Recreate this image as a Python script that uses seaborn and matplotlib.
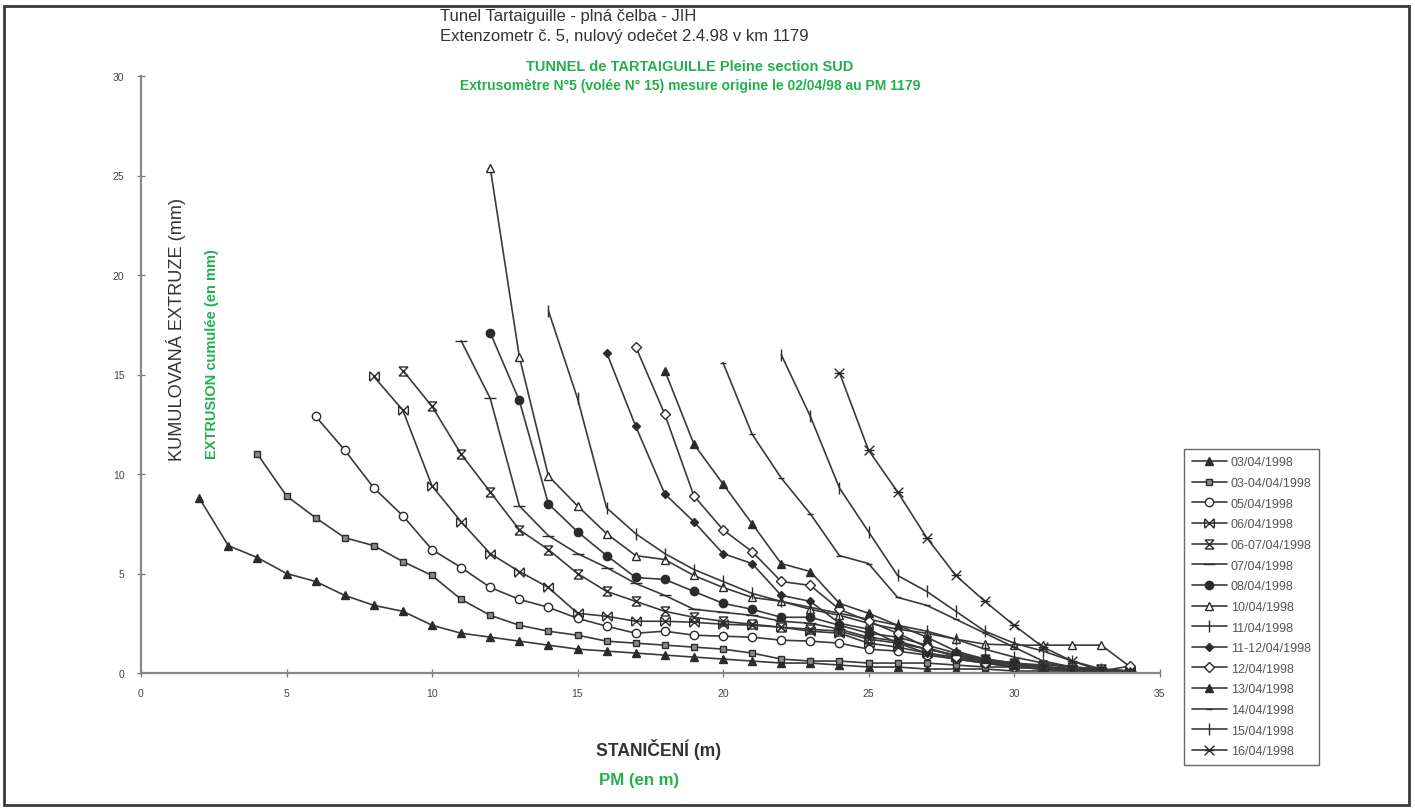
import numpy as np
import pandas as pd
import matplotlib
matplotlib.use("Agg")
import matplotlib.pyplot as plt
from matplotlib.path import Path
from matplotlib.patches import Rectangle
import seaborn as sns

# ---------------- data ----------------
labels = ["03/04/1998", "03-04/04/1998", "05/04/1998", "06/04/1998", "06-07/04/1998",
          "07/04/1998", "08/04/1998", "10/04/1998", "11/04/1998", "11-12/04/1998",
          "12/04/1998", "13/04/1998", "14/04/1998", "15/04/1998", "16/04/1998"]

x_0304 = list(range(2, 35))
y_0304 = [8.8, 6.4, 5.8, 5.0, 4.6, 3.9, 3.4, 3.1, 2.4, 2.0, 1.8, 1.6, 1.4, 1.2, 1.1, 1.0, 0.9,
          0.8, 0.7, 0.6, 0.5, 0.5, 0.4, 0.3, 0.3, 0.2, 0.2, 0.2, 0.1, 0.1, 0.1, 0.1, 0.0]
x_030404 = list(range(4, 35))
y_030404 = [11.0, 8.9, 7.8, 6.8, 6.4, 5.6, 4.9, 3.7, 2.9, 2.4, 2.1, 1.9, 1.6, 1.5, 1.4, 1.3,
            1.2, 1.0, 0.7, 0.6, 0.6, 0.5, 0.5, 0.5, 0.4, 0.3, 0.3, 0.2, 0.2, 0.1, 0.1]
x_0504 = list(range(6, 35))
y_0504 = [12.9, 11.2, 9.3, 7.9, 6.2, 5.3, 4.3, 3.7, 3.3, 2.75, 2.35, 2.0, 2.1, 1.9, 1.85,
          1.8, 1.65, 1.6, 1.5, 1.2, 1.1, 0.9, 0.7, 0.5, 0.4, 0.3, 0.2, 0.1, 0.1]
x_0604 = list(range(8, 35))
y_0604 = [14.9, 13.2, 9.4, 7.6, 6.0, 5.1, 4.3, 3.0, 2.85, 2.6, 2.6, 2.55, 2.45, 2.4, 2.3,
          2.1, 2.0, 1.5, 1.3, 1.0, 0.8, 0.6, 0.4, 0.3, 0.2, 0.1, 0.1]
x_060704 = list(range(9, 35))
y_060704 = [15.2, 13.4, 11.0, 9.1, 7.2, 6.2, 5.0, 4.1, 3.6, 3.1, 2.8, 2.6, 2.45, 2.3, 2.2,
            2.1, 1.7, 1.5, 1.2, 0.9, 0.7, 0.5, 0.4, 0.3, 0.2, 0.1]
x_0704 = list(range(11, 35))
y_0704 = [16.7, 13.8, 8.4, 6.9, 6.0, 5.3, 4.5, 3.9, 3.2, 3.05, 2.9, 2.6, 2.5, 2.2, 1.8, 1.6,
          1.2, 0.9, 0.6, 0.4, 0.3, 0.2, 0.1, 0.1]
x_0804 = list(range(12, 35))
y_0804 = [17.1, 13.7, 8.5, 7.1, 5.9, 4.8, 4.7, 4.1, 3.5, 3.2, 2.8, 2.8, 2.4, 2.0, 1.8, 1.4,
          1.0, 0.7, 0.5, 0.3, 0.2, 0.1, 0.1]
x_1004 = list(range(12, 35))
y_1004 = [25.4, 15.9, 9.9, 8.4, 7.0, 5.9, 5.7, 4.9, 4.3, 3.8, 3.6, 3.2, 2.9, 2.5, 2.2, 2.0,
          1.7, 1.45, 1.4, 1.4, 1.4, 1.4, 0.3]
x_1104 = list(range(14, 35))
y_1104 = [18.2, 13.8, 8.3, 7.0, 6.0, 5.2, 4.6, 4.0, 3.6, 3.3, 3.0, 2.7, 2.4, 2.1, 1.7, 1.2,
          0.8, 0.5, 0.3, 0.2, 0.1]
x_111204 = list(range(16, 35))
y_111204 = [16.1, 12.4, 9.0, 7.6, 6.0, 5.5, 3.9, 3.6, 2.5, 2.2, 1.5, 1.0, 0.7, 0.5, 0.3, 0.2,
            0.1, 0.1, 0.0]
x_1204 = list(range(17, 35))
y_1204 = [16.4, 13.0, 8.9, 7.2, 6.1, 4.6, 4.4, 3.2, 2.6, 2.0, 1.3, 0.8, 0.5, 0.3, 0.2, 0.1,
          0.1, 0.35]
x_1304 = list(range(18, 35))
y_1304 = [15.2, 11.5, 9.5, 7.5, 5.5, 5.1, 3.5, 3.0, 2.4, 1.8, 1.1, 0.7, 0.4, 0.3, 0.2, 0.1, 0.1]
x_1404 = list(range(20, 35))
y_1404 = [15.6, 12.0, 9.8, 8.0, 5.9, 5.5, 3.8, 3.4, 2.7, 2.0, 1.3, 0.6, 0.3, 0.1, 0.1]
x_1504 = list(range(22, 34))
y_1504 = [16.0, 12.9, 9.3, 7.1, 4.9, 4.1, 3.1, 2.1, 1.5, 1.1, 0.6, 0.1]
x_1604 = list(range(24, 35))
y_1604 = [15.1, 11.2, 9.1, 6.8, 4.9, 3.6, 2.4, 1.3, 0.6, 0.2, 0.0]

xs = [x_0304, x_030404, x_0504, x_0604, x_060704, x_0704, x_0804, x_1004, x_1104,
      x_111204, x_1204, x_1304, x_1404, x_1504, x_1604]
ys = [y_0304, y_030404, y_0504, y_0604, y_060704, y_0704, y_0804, y_1004, y_1104,
      y_111204, y_1204, y_1304, y_1404, y_1504, y_1604]

x_ticks = [0, 5, 10, 15, 20, 25, 30, 35]
y_ticks = [0, 5, 10, 15, 20, 25, 30]

# ---------------- custom markers ----------------
M, L = Path.MOVETO, Path.LINETO
bowtie = Path([(-1, -1), (1, 1), (-1, 1), (1, -1), (-1, -0.8), (-1, 0.8), (1, -0.8), (1, 0.8)],
              [M, L, M, L, M, L, M, L])
hourglass = Path([(-1, -1), (1, 1), (-1, 1), (1, -1), (-0.9, 1), (0.9, 1), (-0.9, -1), (0.9, -1)],
                 [M, L, M, L, M, L, M, L])
xstar = Path([(-1, -1), (1, 1), (-1, 1), (1, -1), (-1, 0), (1, 0)], [M, L, M, L, M, L])

DK = "#2b2b2b"
styles = [
    dict(marker="^", ms=5.5, mfc=DK),
    dict(marker="s", ms=5, mfc="#8a8a8a"),
    dict(marker="o", ms=6, mfc="white"),
    dict(marker=bowtie, ms=7, mfc="none"),
    dict(marker=hourglass, ms=6.5, mfc="none"),
    dict(marker="_", ms=8, mfc=DK),
    dict(marker="o", ms=6, mfc=DK),
    dict(marker="^", ms=6, mfc="white"),
    dict(marker="|", ms=9, mfc=DK),
    dict(marker="D", ms=4.5, mfc=DK),
    dict(marker="D", ms=5, mfc="white"),
    dict(marker="^", ms=6, mfc=DK),
    dict(marker="_", ms=5, mfc=DK),
    dict(marker="|", ms=9, mfc=DK),
    dict(marker=xstar, ms=7, mfc="none"),
]

# ---------------- figure ----------------
sns.set_theme(style="white")
plt.rcParams["font.family"] = ["Liberation Sans", "DejaVu Sans"]

W, H = 1415, 812
fig = plt.figure(figsize=(W / 100, H / 100), dpi=100)
fig.patch.set_facecolor("white")


def fx(px):
    return px / W


def fy(py):
    return 1 - py / H


ax = fig.add_axes([fx(141), fy(674), fx(1159.5) - fx(141), fy(77) - fy(674)])
ax.set_facecolor("white")

for lab, xv, yv, st in zip(labels, xs, ys, styles):
    df = pd.DataFrame({"x": xv, "y": yv})
    sns.lineplot(data=df, x="x", y="y", ax=ax, color="#3a3a3a", linewidth=1.2,
                 marker=st["marker"], markersize=st["ms"], markerfacecolor=st["mfc"],
                 markeredgecolor=DK, markeredgewidth=1.0, label=lab, sort=False,
                 legend=False)

ax.set_xlim(0, 35)
ax.set_ylim(0, 30)
ax.set_xticks(x_ticks)
ax.set_yticks(y_ticks)
ax.set_xticklabels([str(t) for t in x_ticks])
ax.set_yticklabels([str(t) for t in y_ticks])
ax.tick_params(axis="both", direction="inout", length=6, width=0.9, color="#777777",
               labelsize=7.5, labelcolor="#444444", bottom=True, left=True)
ax.tick_params(axis="x", pad=8)
ax.tick_params(axis="y", pad=9)
for s in ["top", "right"]:
    ax.spines[s].set_visible(False)
for s in ["left", "bottom"]:
    ax.spines[s].set_color("#888888")
    ax.spines[s].set_linewidth(1.6)
ax.set_xlabel("")
ax.set_ylabel("")
ax.grid(False)

# ---------------- texts ----------------
GREEN = "#22b04e"
TXT = "#333333"
renderer = fig.canvas.get_renderer()


def fit_text(px, py, s, target, vertical=False, **kw):
    t = fig.text(fx(px), fy(py), s, fontsize=10, **kw)
    ext = t.get_window_extent(renderer)
    cur = ext.height if vertical else ext.width
    t.set_fontsize(10 * target / cur)
    return t


fig.text(fx(440), fy(17), "Tunel Tartaiguille - plná čelba - JIH", ha="left", va="center",
         fontsize=12, color=TXT)
fig.text(fx(440), fy(36), "Extenzometr č. 5, nulový odečet 2.4.98 v km 1179", ha="left",
         va="center", fontsize=12, color=TXT)
fig.text(fx(690), fy(67), "TUNNEL de TARTAIGUILLE Pleine section SUD", ha="center",
         va="center", fontsize=10.5, color=GREEN, fontweight="bold")
fig.text(fx(690), fy(86), "Extrusomètre N°5 (volée N° 15) mesure origine le 02/04/98 au PM 1179",
         ha="center", va="center", fontsize=10, color=GREEN, fontweight="bold")

fit_text(176, 330, "KUMULOVANÁ EXTRUZE (mm)", 263, vertical=True, rotation=90,
         ha="center", va="center", color=TXT)
fit_text(212, 354, "EXTRUSION cumulée (en mm)", 209, vertical=True, rotation=90,
         ha="center", va="center", color=GREEN, fontweight="bold")

fit_text(596, 750, "STANIČENÍ (m)", 125, ha="left", va="center", color=TXT,
         fontweight="bold")
fit_text(599, 781, "PM (en m)", 80, ha="left", va="center", color=GREEN,
         fontweight="bold")

# ---------------- legend ----------------
handles, labs = ax.get_legend_handles_labels()
leg = fig.legend(handles, labs, loc="upper left", bbox_to_anchor=(fx(1184), fy(450)),
                 fontsize=9, frameon=True, fancybox=False, shadow=False,
                 handlelength=2.8, handletextpad=0.35, labelspacing=0.69,
                 borderpad=0.6, borderaxespad=0.0, labelcolor="#555555")
leg.get_frame().set_edgecolor("#444444")
leg.get_frame().set_linewidth(1.0)

# ---------------- outer frame ----------------
fig.add_artist(Rectangle((fx(4), fy(806)), fx(1409) - fx(4), fy(7) - fy(806),
                         transform=fig.transFigure, fill=False, edgecolor="#3a3a3a",
                         linewidth=2.0))

fig.savefig("out.png", dpi=100, facecolor="white")
